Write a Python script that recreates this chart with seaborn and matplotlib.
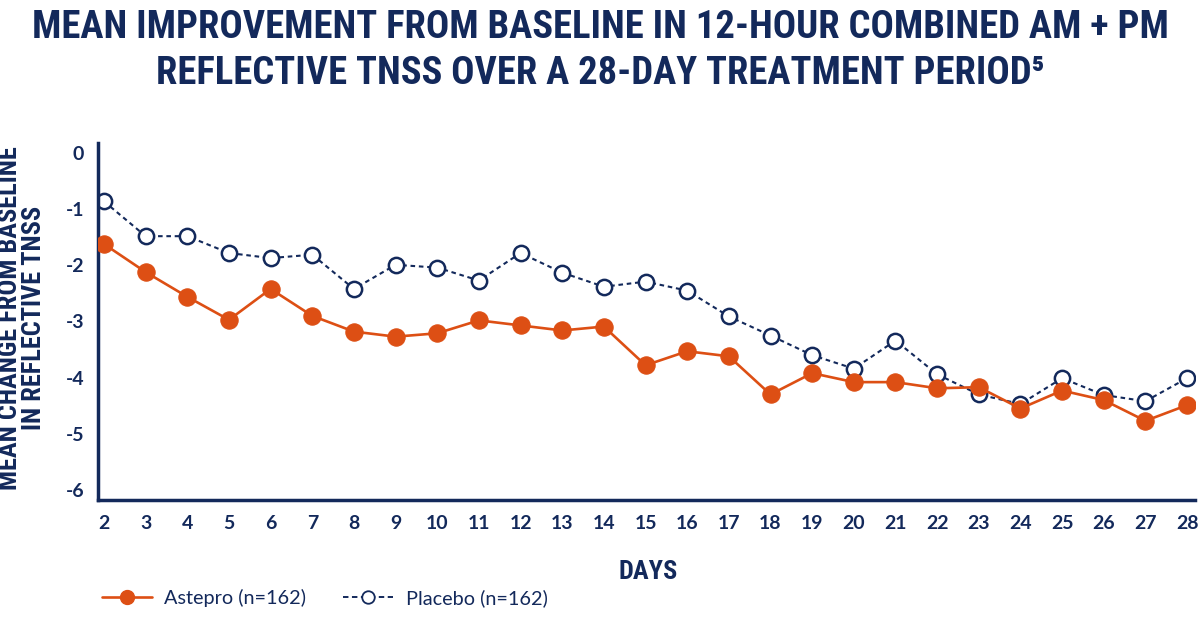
import matplotlib
matplotlib.use("Agg")
import matplotlib.pyplot as plt
from matplotlib import font_manager
from matplotlib.lines import Line2D
import seaborn as sns
import pandas as pd

days = list(range(2, 29))
astepro = [-1.62, -2.12, -2.56, -2.97, -2.42, -2.90, -3.18, -3.27, -3.21, -2.98,
           -3.07, -3.16, -3.09, -3.78, -3.53, -3.62, -4.30, -3.92, -4.08, -4.08,
           -4.19, -4.17, -4.55, -4.23, -4.40, -4.77, -4.49]
placebo = [-0.86, -1.48, -1.48, -1.78, -1.87, -1.81, -2.42, -1.99, -2.04, -2.27,
           -1.78, -2.13, -2.38, -2.29, -2.45, -2.91, -3.25, -3.60, -3.84, -3.34,
           -3.94, -4.30, -4.47, -4.01, -4.31, -4.42, -4.01]
y_ticks = [0, -1, -2, -3, -4, -5, -6]
series_names = ["Astepro (n=162)", "Placebo (n=162)"]

NAVY = "#13295b"
ORANGE = "#dd4f14"

sns.set_theme(style="white")
available = {f.name for f in font_manager.fontManager.ttflist}
cond = next((n for n in ["Roboto Condensed", "Liberation Sans Narrow", "DejaVu Sans Condensed",
                         "Roboto", "DejaVu Sans"] if n in available), "DejaVu Sans")
body = next((n for n in ["Lato", "Open Sans", "DejaVu Sans"] if n in available), "DejaVu Sans")
plt.rcParams["font.family"] = [body, "DejaVu Sans"]

fig = plt.figure(figsize=(12, 6.2), dpi=100)
ax = fig.add_axes([98 / 1200, 1 - 500 / 620, (1195 - 98) / 1200, 357 / 620])

df_a = pd.DataFrame({"day": days, "value": astepro})
df_p = pd.DataFrame({"day": days, "value": placebo})

sns.lineplot(data=df_a, x="day", y="value", ax=ax, color=ORANGE, linewidth=1.9,
             marker="o", markersize=12.5, markeredgecolor=ORANGE, markerfacecolor=ORANGE,
             zorder=3)
sns.lineplot(data=df_p, x="day", y="value", ax=ax, color=NAVY, linewidth=1.5,
             linestyle=(0, (2.2, 1.8)), marker="o", markersize=11, markeredgewidth=1.8,
             markeredgecolor=NAVY, markerfacecolor="white", zorder=2)

ax.set_xlim(1.856, 28.19)
ax.set_ylim(-6.18, 0.18)
ax.set_xticks(days)
ax.set_xticklabels([str(d) for d in days])
ax.set_yticks(y_ticks)
ax.set_yticklabels([str(v) for v in y_ticks])
ax.tick_params(axis="both", length=0, labelsize=14, labelcolor=NAVY)
ax.tick_params(axis="x", pad=11)
ax.tick_params(axis="y", pad=10)
for lab in ax.get_xticklabels() + ax.get_yticklabels():
    lab.set_fontweight("bold")
for s in ["top", "right"]:
    ax.spines[s].set_visible(False)
for s in ["left", "bottom"]:
    ax.spines[s].set_color(NAVY)
    ax.spines[s].set_linewidth(2.5)
ax.set_xlabel("")
ax.set_ylabel("")
ax.grid(False)

fig.text(0.5, 1 - 28 / 620, "MEAN IMPROVEMENT FROM BASELINE IN 12-HOUR COMBINED AM + PM",
         ha="center", va="center", fontsize=27.8, fontweight="bold", color=NAVY,
         family=[cond, "DejaVu Sans"])
fig.text(0.5, 1 - 73 / 620, "REFLECTIVE TNSS OVER A 28-DAY TREATMENT PERIOD\u2075",
         ha="center", va="center", fontsize=27.8, fontweight="bold", color=NAVY,
         family=[cond, "DejaVu Sans"])
fig.text(22 / 1200, 1 - 318 / 620, "MEAN CHANGE FROM BASELINE\nIN REFLECTIVE TNSS",
         ha="center", va="center", rotation=90, fontsize=19, fontweight="bold",
         color=NAVY, linespacing=0.95, family=[cond, "DejaVu Sans"])
fig.text(648 / 1200, 1 - 572 / 620, "DAYS", ha="center", va="center", fontsize=19,
         fontweight="bold", color=NAVY, family=[cond, "DejaVu Sans"])

handles = [
    Line2D([], [], color=ORANGE, linewidth=1.9, marker="o", markersize=10,
           markerfacecolor=ORANGE, markeredgecolor=ORANGE),
    Line2D([], [], color=NAVY, linewidth=1.4, linestyle=(0, (2.8, 1.8)), marker="o",
           markersize=9, markerfacecolor="white", markeredgecolor=NAVY, markeredgewidth=1.3),
]
leg = fig.legend(handles, series_names, loc="center left", bbox_to_anchor=(84 / 1200, 1 - 598 / 620),
                 ncol=2, frameon=False, fontsize=14.3, handlelength=2.5, columnspacing=1.85,
                 handletextpad=0.65)
for t in leg.get_texts():
    t.set_color(NAVY)

fig.savefig("out.png", dpi=100, facecolor="white")
